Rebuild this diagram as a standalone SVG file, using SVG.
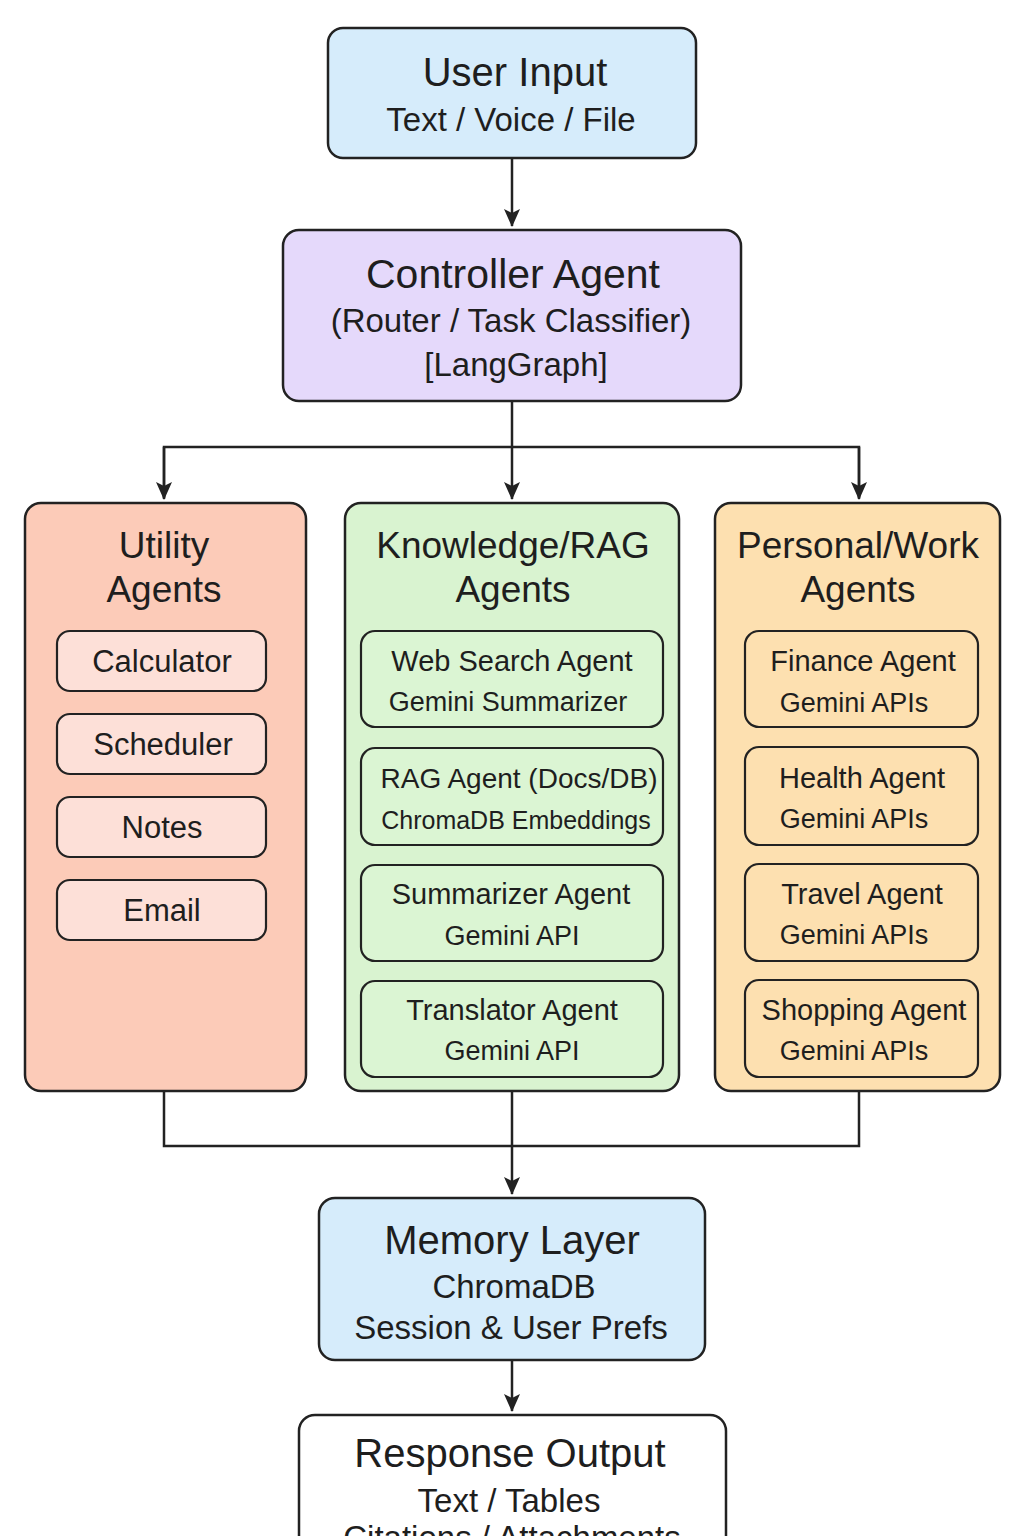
<svg xmlns="http://www.w3.org/2000/svg" width="1024" height="1536" viewBox="0 0 1024 1536">
<defs>
<marker id="arr" viewBox="0 0 18 16" refX="17" refY="8" markerWidth="18" markerHeight="16" markerUnits="userSpaceOnUse" orient="auto">
<path d="M0,0 L18,8 L0,16 L4,8 z" fill="#222"/>
</marker>
<style>
text{font-family:"Liberation Sans",Arial,Helvetica,sans-serif;fill:#1e1e1e;text-anchor:middle}
.box{stroke:#222;stroke-width:2.5}
.sub{stroke:#222;stroke-width:2.2}
.t1{font-size:40px}
.t2{font-size:33px}
.tt{font-size:37px}
.s1{font-size:29px}
.s2{font-size:27px}
.u{font-size:31px}
.conn{fill:none;stroke:#222;stroke-width:2.5}
</style>
</defs>
<rect width="1024" height="1536" fill="#ffffff"/>

<g id="connectors">
<path class="conn" d="M512,158 V226" marker-end="url(#arr)"/>
<path class="conn" d="M512,401 V447"/>
<path class="conn" d="M164,498 V447 H859 V498"/>
<path class="conn" d="M512,447 V499" marker-end="url(#arr)"/>
<path class="conn" d="M164,447 V499" marker-end="url(#arr)"/>
<path class="conn" d="M859,447 V499" marker-end="url(#arr)"/>
<path class="conn" d="M164,1091 V1146 H859 V1091"/>
<path class="conn" d="M512,1091 V1194" marker-end="url(#arr)"/>
<path class="conn" d="M512,1360 V1411" marker-end="url(#arr)"/>
</g>

<g id="user-input">
<rect class="box" x="328" y="28" width="368" height="130" rx="15" fill="#d6ecfb"/>
<text class="t1" x="515" y="86">User Input</text>
<text class="t2" x="511" y="131">Text / Voice / File</text>
</g>

<g id="controller">
<rect class="box" x="283" y="230" width="458" height="171" rx="16" fill="#e5d9fb"/>
<text class="t1" x="513" y="288" style="font-size:41px">Controller Agent</text>
<text class="t2" x="511" y="332">(Router / Task Classifier)</text>
<text class="t2" x="516" y="376">[LangGraph]</text>
</g>

<g id="utility-agents">
<rect class="box" x="25" y="503" width="281" height="588" rx="16" fill="#fccbb8"/>
<text class="tt" x="164" y="558">Utility</text>
<text class="tt" x="164" y="602">Agents</text>
<g id="calculator">
<rect class="sub" x="57" y="631" width="209" height="60" rx="13" fill="#fde0d8"/>
<text class="u" x="162" y="672">Calculator</text>
</g>
<g id="scheduler">
<rect class="sub" x="57" y="714" width="209" height="60" rx="13" fill="#fde0d8"/>
<text class="u" x="163" y="755">Scheduler</text>
</g>
<g id="notes">
<rect class="sub" x="57" y="797" width="209" height="60" rx="13" fill="#fde0d8"/>
<text class="u" x="162" y="838">Notes</text>
</g>
<g id="email">
<rect class="sub" x="57" y="880" width="209" height="60" rx="13" fill="#fde0d8"/>
<text class="u" x="162" y="921">Email</text>
</g>
</g>

<g id="knowledge-agents">
<rect class="box" x="345" y="503" width="334" height="588" rx="16" fill="#d9f3d0"/>
<text class="tt" x="513" y="558">Knowledge/RAG</text>
<text class="tt" x="513" y="602">Agents</text>
<g id="web-search">
<rect class="sub" x="361" y="631" width="302" height="96" rx="14" fill="#dbf5d3"/>
<text class="s1" x="512" y="671">Web Search Agent</text>
<text class="s2" x="508" y="711">Gemini Summarizer</text>
</g>
<g id="rag-agent">
<rect class="sub" x="361" y="748" width="302" height="97" rx="14" fill="#dbf5d3"/>
<text class="s1" x="519" y="788" style="font-size:28px">RAG Agent (Docs/DB)</text>
<text class="s2" x="516" y="829" style="font-size:25px">ChromaDB Embeddings</text>
</g>
<g id="summarizer">
<rect class="sub" x="361" y="865" width="302" height="96" rx="14" fill="#dbf5d3"/>
<text class="s1" x="511" y="904">Summarizer Agent</text>
<text class="s2" x="512" y="945">Gemini API</text>
</g>
<g id="translator">
<rect class="sub" x="361" y="981" width="302" height="96" rx="14" fill="#dbf5d3"/>
<text class="s1" x="512" y="1020">Translator Agent</text>
<text class="s2" x="512" y="1060">Gemini API</text>
</g>
</g>

<g id="personal-agents">
<rect class="box" x="715" y="503" width="285" height="588" rx="16" fill="#fde0b0"/>
<text class="tt" x="858" y="558">Personal/Work</text>
<text class="tt" x="858" y="602">Agents</text>
<g id="finance">
<rect class="sub" x="745" y="631" width="233" height="96" rx="14" fill="#fde0b0"/>
<text class="s1" x="863" y="671">Finance Agent</text>
<text class="s2" x="854" y="712">Gemini APIs</text>
</g>
<g id="health">
<rect class="sub" x="745" y="747" width="233" height="98" rx="14" fill="#fde0b0"/>
<text class="s1" x="862" y="788">Health Agent</text>
<text class="s2" x="854" y="828">Gemini APIs</text>
</g>
<g id="travel">
<rect class="sub" x="745" y="864" width="233" height="97" rx="14" fill="#fde0b0"/>
<text class="s1" x="862" y="904">Travel Agent</text>
<text class="s2" x="854" y="944">Gemini APIs</text>
</g>
<g id="shopping">
<rect class="sub" x="745" y="980" width="233" height="97" rx="14" fill="#fde0b0"/>
<text class="s1" x="864" y="1020">Shopping Agent</text>
<text class="s2" x="854" y="1060">Gemini APIs</text>
</g>
</g>

<g id="memory-layer">
<rect class="box" x="319" y="1198" width="386" height="162" rx="16" fill="#d6ecfb"/>
<text class="t1" x="512" y="1254">Memory Layer</text>
<text class="t2" x="514" y="1298">ChromaDB</text>
<text class="t2" x="511" y="1339">Session &amp; User Prefs</text>
</g>

<g id="response-output">
<rect class="box" x="299" y="1415" width="427" height="160" rx="16" fill="#ffffff"/>
<text class="t1" x="510" y="1467">Response Output</text>
<text class="t2" x="509" y="1512">Text / Tables</text>
<text class="t2" x="512" y="1549">Citations / Attachments</text>
</g>
</svg>
